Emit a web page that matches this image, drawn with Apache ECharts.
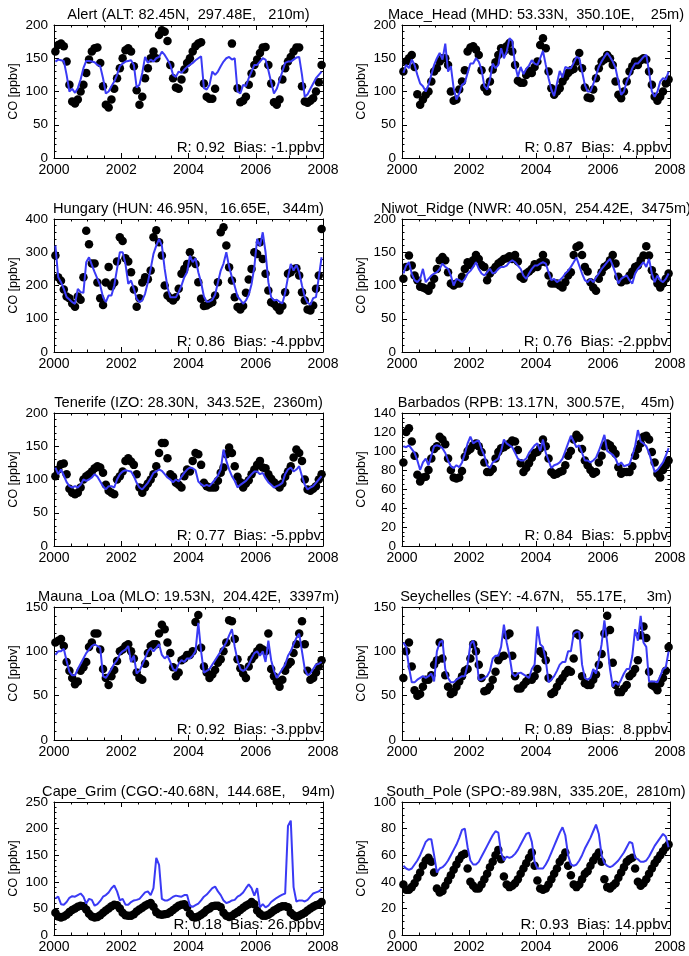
<!DOCTYPE html>
<html>
<head>
<meta charset="utf-8">
<title>CO stations</title>
<script src="https://cdn.jsdelivr.net/npm/echarts@6/dist/echarts.min.js"></script>
<style>
  html, body { margin: 0; padding: 0; background: #fff; }
  #chart { width: 689px; height: 956px; }
</style>
</head>
<body>
<div id="chart"></div>
<script>
// monthly values, Jan 2000 .. Dec 2007 (ppbv); obs = black dots, mod = blue line
const altObs = [
  160,170,172,168,145,110,85,82,88,100,110,128,
  148,160,165,166,143,108,80,76,88,104,120,135,
  150,162,165,160,138,102,80,92,120,135,150,160,
  150,185,192,190,176,140,120,106,104,118,133,143,
  150,160,168,172,174,112,92,89,89,104,null,null,
  null,null,null,172,null,105,84,86,92,110,127,140,
  148,158,166,167,140,112,84,80,88,118,135,145,
  152,160,166,166,108,85,83,86,90,100,114,140
];
const altMod = [
  145,148,147,146,125,100,104,98,105,118,135,146,
  146,145,144,140,138,120,97,100,108,115,125,138,
  142,145,146,147,140,106,110,128,152,143,148,145,
  150,152,160,155,148,140,125,122,130,128,133,137,
  140,143,147,150,153,105,103,110,130,125,130,138,
  145,150,152,148,150,100,97,110,108,120,130,140,
  140,145,150,148,132,114,97,104,117,130,143,145,
  145,148,151,152,125,92,96,104,112,120,125,130
];
const mhdObs = [
  130,145,150,155,137,96,80,88,95,100,115,130,
  135,145,150,150,140,100,86,88,103,115,132,160,
  166,168,163,155,132,106,100,115,133,144,155,165,
  160,168,173,160,140,116,113,113,125,131,128,137,
  145,170,180,165,130,105,95,100,105,115,122,128,
  132,134,145,158,135,106,91,90,103,120,135,145,
  148,155,150,140,115,95,90,100,115,130,138,145,
  140,147,150,148,130,110,92,86,92,100,112,118
];
const mhdMod = [
  128,140,135,148,140,125,112,108,100,110,125,140,
  150,158,148,172,130,138,105,88,97,110,113,128,
  142,142,150,145,133,108,103,118,142,135,140,165,
  150,160,180,176,140,122,137,126,134,139,147,142,
  140,150,161,140,120,103,93,112,131,121,137,135,
  135,143,152,150,130,110,100,100,111,124,137,145,
  152,158,152,145,135,115,95,100,115,124,135,142,
  142,147,152,155,130,100,92,100,115,120,118,130
];
const hunObs = [
  290,225,214,188,167,162,146,136,167,157,225,365,
  324,266,266,209,162,141,209,256,198,209,272,345,
  334,282,272,240,188,136,162,209,225,219,245,345,
  366,330,290,200,170,162,155,165,190,235,250,265,
  300,275,265,210,160,138,140,145,150,170,210,360,
  375,320,255,215,165,135,128,138,178,218,250,300,
  295,330,280,235,185,150,145,135,125,138,180,235,
  240,250,252,230,180,155,128,125,140,190,230,370
];
const hunMod = [
  320,225,210,190,165,158,150,145,190,180,178,270,
  285,262,240,220,200,165,150,170,170,200,250,300,
  300,265,205,215,190,160,150,155,175,210,250,295,
  320,340,320,250,195,165,165,165,180,200,225,240,
  290,270,282,240,209,167,151,152,157,172,209,245,
  266,300,256,225,198,167,157,145,155,172,204,256,
  340,318,360,300,210,165,155,157,151,146,178,225,
  265,245,262,240,200,165,148,142,162,165,225,285
];
const nwrObs = [
  110,128,145,130,115,108,98,97,95,92,100,110,
  125,138,143,138,120,103,100,103,103,113,125,135,
  131,138,146,140,131,128,108,118,123,128,133,136,
  140,141,144,140,146,136,113,110,118,121,125,132,
  128,135,146,135,115,103,103,103,100,97,105,115,
  120,146,158,160,146,128,121,105,97,92,110,120,
  128,131,138,146,133,113,105,108,108,115,121,128,
  130,138,145,159,145,123,113,103,97,103,110,118
];
const nwrMod = [
  118,130,135,118,108,105,110,125,105,110,115,118,
  120,125,133,128,125,115,100,110,108,105,110,118,
  122,128,135,125,118,115,120,125,118,120,125,128,
  128,130,135,138,135,130,125,115,110,118,125,130,
  130,133,135,133,120,108,110,105,108,112,118,122,
  128,135,142,130,118,108,105,110,105,112,118,125,
  130,135,140,130,118,103,110,113,115,108,103,118,
  125,130,135,128,140,118,105,115,108,105,110,118
];
const izoObs = [
  105,115,123,124,108,86,80,78,80,88,100,105,
  108,112,117,120,118,110,92,83,80,78,100,105,
  112,128,132,127,122,108,88,80,88,94,100,108,
  120,140,155,155,132,108,104,95,92,88,105,115,
  112,128,140,138,122,95,90,88,88,88,98,110,
  118,138,148,140,120,104,96,88,94,99,108,115,
  122,128,118,117,108,101,96,92,88,94,104,112,
  120,133,145,140,128,100,85,83,86,90,100,108
];
const izoMod = [
  118,108,115,106,96,90,88,90,88,92,100,98,
  100,103,108,104,97,90,85,90,90,88,100,108,
  112,114,113,112,105,95,88,85,90,95,102,110,
  112,115,113,108,103,100,96,100,97,104,110,115,
  118,117,114,97,93,90,92,90,95,100,106,115,
  145,128,115,105,98,88,92,95,98,103,108,112,
  112,108,110,102,96,92,88,90,92,95,108,115,
  118,112,115,120,105,92,85,88,90,95,100,105
];
const rpbObs = [
  88,120,124,110,95,75,68,72,73,80,92,102,
  105,115,112,107,92,80,72,71,72,79,94,100,
  102,106,108,105,99,88,78,78,81,92,99,103,
  104,106,108,111,110,101,87,78,82,87,93,98,
  99,103,112,105,92,78,75,76,78,79,85,95,
  100,112,117,114,102,90,85,80,76,78,88,95,
  105,108,106,102,97,83,76,78,78,78,84,95,
  102,108,115,116,112,99,88,76,72,80,85,90
];
const rpbMod = [
  105,104,106,102,98,90,80,88,92,85,95,105,
  106,105,103,98,90,84,82,85,83,88,97,108,
  115,108,110,111,102,95,85,82,88,90,92,100,
  112,108,106,104,98,92,90,90,92,98,102,106,
  108,100,112,98,90,82,85,86,88,92,100,108,
  116,110,104,106,98,90,90,88,90,93,100,108,
  117,100,98,96,92,85,88,84,85,86,95,105,
  122,110,108,105,98,88,78,80,84,88,95,103
];
const mloObs = [
  110,112,114,106,88,78,70,63,66,78,82,88,
  105,110,120,120,102,80,70,62,72,79,89,100,
  102,106,108,100,92,76,70,68,86,98,106,108,
  108,120,130,125,110,98,82,72,76,90,92,96,
  96,100,133,141,104,83,76,70,74,79,87,91,
  100,110,135,134,114,91,81,75,70,83,91,95,
  100,104,102,100,120,80,72,66,60,68,78,85,
  88,98,108,120,134,108,78,68,70,76,83,90
];
const mloMod = [
  96,100,100,103,89,77,73,73,80,86,92,98,
  102,106,108,106,104,72,70,75,80,86,90,97,
  100,102,106,88,95,75,78,85,92,100,104,100,
  104,108,96,92,95,88,80,78,86,90,88,92,
  92,95,100,132,100,76,78,80,85,90,95,100,
  105,110,118,125,105,90,80,78,80,85,92,98,
  100,95,100,88,112,90,78,70,75,80,85,95,
  100,108,115,120,100,80,73,75,80,85,86,88
];
const seyObs = [
  70,100,110,83,56,50,52,60,68,68,73,85,
  90,110,92,73,60,52,54,60,66,72,78,80,
  92,108,100,85,70,55,56,60,68,77,90,94,
  95,118,120,95,72,58,58,62,66,70,68,72,
  80,100,97,90,70,52,54,60,66,70,75,79,
  77,92,120,118,72,64,62,62,68,74,85,97,
  120,140,124,87,62,54,54,58,62,72,75,80,
  90,118,128,115,77,62,60,56,64,70,78,105
];
const seyMod = [
  110,105,82,65,65,68,70,72,70,72,75,66,
  100,110,112,80,70,65,65,68,70,72,72,85,
  108,112,100,68,68,70,72,78,92,95,95,105,
  130,110,95,75,72,75,76,74,72,70,80,85,
  128,108,105,90,65,68,72,78,85,88,88,100,
  100,120,122,122,85,70,68,70,80,75,90,108,
  135,110,80,60,65,62,68,75,80,80,95,125,
  112,140,110,105,66,66,66,65,72,80,82,100
];
const cgoObs = [
  42,35,33,35,38,43,47,50,53,55,54,48,
  40,35,33,34,37,42,46,50,54,57,56,50,
  42,37,36,36,39,44,48,51,55,58,60,53,
  43,39,38,39,40,43,47,51,55,57,58,52,
  40,34,33,35,38,42,47,50,54,55,55,52,
  42,36,34,36,40,43,47,51,55,58,62,58,
  46,40,36,36,38,42,46,49,52,54,54,52,
  42,37,34,36,39,42,46,50,53,56,58,62
];
const cgoMod = [
  69,72,58,57,62,70,73,72,75,78,72,59,
  68,66,55,58,64,72,75,80,88,93,82,65,
  68,57,57,62,65,66,68,74,80,82,75,88,
  145,132,68,65,65,68,72,74,73,72,75,75,
  55,53,56,59,65,72,76,82,88,91,82,75,
  65,60,62,65,66,72,75,80,88,95,88,74,
  88,52,58,52,55,62,66,70,73,76,78,205,
  215,90,63,65,65,63,66,72,78,80,82,86
];
const spoObs = [
  38,34,34,36,39,43,47,52,56,58,55,47,
  35,32,33,37,41,45,49,53,57,60,61,50,
  40,37,35,35,38,42,46,51,55,60,64,57,
  44,38,36,37,39,42,46,50,54,58,62,52,
  41,35,34,35,38,42,46,50,55,58,62,52,
  45,38,36,38,42,46,48,52,56,59,62,55,
  42,36,35,37,39,43,47,51,55,57,58,50,
  40,37,39,42,46,50,54,57,60,63,66,68
];
const spoMod = [
  52,50,49,50,53,56,60,65,70,72,72,60,
  47,50,51,53,56,60,64,68,73,79,80,66,
  56,53,53,55,59,63,67,71,75,78,77,62,
  56,59,58,59,61,64,68,72,76,77,70,55,
  50,50,50,53,57,62,67,72,77,81,75,60,
  53,52,53,56,60,65,69,73,78,83,76,60,
  54,52,51,52,54,56,59,62,66,70,69,58,
  57,55,55,56,59,63,67,70,73,76,74,66
];

const titles = [
  'Alert (ALT: 82.45N,  297.48E,   210m)',
  'Mace_Head (MHD: 53.33N,  350.10E,    25m)',
  'Hungary (HUN: 46.95N,   16.65E,   344m)',
  'Niwot_Ridge (NWR: 40.05N,  254.42E,  3475m)',
  'Tenerife (IZO: 28.30N,  343.52E,  2360m)',
  'Barbados (RPB: 13.17N,  300.57E,    45m)',
  'Mauna_Loa (MLO: 19.53N,  204.42E,  3397m)',
  'Seychelles (SEY: -4.67N,   55.17E,     3m)',
  'Cape_Grim (CGO:-40.68N,  144.68E,    94m)',
  'South_Pole (SPO:-89.98N,  335.20E,  2810m)'
];
const stats = [
  'R: 0.92  Bias: -1.ppbv', 'R: 0.87  Bias:  4.ppbv',
  'R: 0.86  Bias: -4.ppbv', 'R: 0.76  Bias: -2.ppbv',
  'R: 0.77  Bias: -5.ppbv', 'R: 0.84  Bias:  5.ppbv',
  'R: 0.92  Bias: -3.ppbv', 'R: 0.89  Bias:  8.ppbv',
  'R: 0.18  Bias: 26.ppbv', 'R: 0.93  Bias: 14.ppbv'
];
const yMax  = [200, 200, 400, 200, 200, 140, 150, 150, 250, 100];
const yStep = [50, 50, 100, 50, 50, 20, 50, 50, 50, 20];
const xTicks = [2000, 2008, 2];  // min, max, interval

const obsAll = [altObs, mhdObs, hunObs, nwrObs, izoObs, rpbObs, mloObs, seyObs, cgoObs, spoObs];
const modAll = [altMod, mhdMod, hunMod, nwrMod, izoMod, rpbMod, mloMod, seyMod, cgoMod, spoMod];

const FONT = '"Liberation Sans", Arial, Helvetica, sans-serif';
const BLUE = '#3a3af5';

function toPoints(arr) {
  return arr.map((v, i) => v == null ? null : [2000 + (i + 0.5) / 12, v]).filter(p => p);
}

const colLeft = [54, 402];
const colWidth = [269, 268];
const rowTop = [25, 219, 413, 607, 802];
const plotH = 133;

const grids = [], xAxes = [], yAxes = [], series = [], texts = [];

obsAll.forEach((obs, k) => {
  const col = k % 2, row = Math.floor(k / 2);
  const left = colLeft[col], top = rowTop[row], w = colWidth[col];
  grids.push({ left: left, top: top, width: w, height: plotH });

  const tick = { show: true, inside: true, length: 5, lineStyle: { color: '#000', width: 1 } };
  const line = { show: true, onZero: false, lineStyle: { color: '#000', width: 1 } };

  ['bottom', 'top'].forEach(pos => {
    xAxes.push({
      type: 'value', gridIndex: k, position: pos,
      min: xTicks[0], max: xTicks[1], interval: xTicks[2],
      axisLine: line, axisTick: tick,
      minorTick: { show: true, splitNumber: 4, length: 2.5, lineStyle: { color: '#000' } },
      splitLine: { show: false },
      axisLabel: {
        show: pos === 'bottom', color: '#000', fontSize: 14, fontFamily: FONT, margin: 5,
        formatter: v => String(v)
      }
    });
  });
  ['left', 'right'].forEach(pos => {
    yAxes.push({
      type: 'value', gridIndex: k, position: pos,
      min: 0, max: yMax[k], interval: yStep[k],
      axisLine: line, axisTick: tick,
      minorTick: { show: true, splitNumber: yStep[k] === 20 ? 4 : 5, length: 2.5, lineStyle: { color: '#000' } },
      splitLine: { show: false },
      name: pos === 'left' ? 'CO [ppbv]' : '',
      nameLocation: 'middle', nameGap: 34, nameRotate: 90,
      nameTextStyle: { color: '#000', fontSize: 12.5, fontFamily: FONT },
      axisLabel: { show: pos === 'left', color: '#000', fontSize: 13.5, fontFamily: FONT, margin: 6 }
    });
  });

  series.push({
    type: 'scatter', xAxisIndex: 2 * k, yAxisIndex: 2 * k,
    data: toPoints(obs), symbol: 'circle', symbolSize: 8.5,
    itemStyle: { color: '#000', opacity: 1 }, z: 2, silent: true
  });
  series.push({
    type: 'line', xAxisIndex: 2 * k, yAxisIndex: 2 * k,
    data: toPoints(modAll[k]), showSymbol: false, symbol: 'none',
    lineStyle: { color: BLUE, width: 2 }, z: 3, silent: true
  });

  texts.push({
    type: 'text', x: left + w / 2, y: top - 10.5,
    style: { text: titles[k], font: '14.6px ' + FONT, fill: '#000',
             align: 'center', verticalAlign: 'middle', textAlign: 'center', textVerticalAlign: 'middle' }
  });
  texts.push({
    type: 'text', x: left + w - 2, y: top + plotH - 10,
    style: { text: stats[k], font: '15px ' + FONT, fill: '#000',
             align: 'right', verticalAlign: 'middle', textAlign: 'right', textVerticalAlign: 'middle' },
    z: 10
  });
});

const chart = echarts.init(document.getElementById('chart'), null, { renderer: 'canvas' });
chart.setOption({
  animation: false,
  backgroundColor: '#fff',
  grid: grids,
  xAxis: xAxes,
  yAxis: yAxes,
  series: series,
  graphic: { elements: texts }
});
</script>
</body>
</html>
